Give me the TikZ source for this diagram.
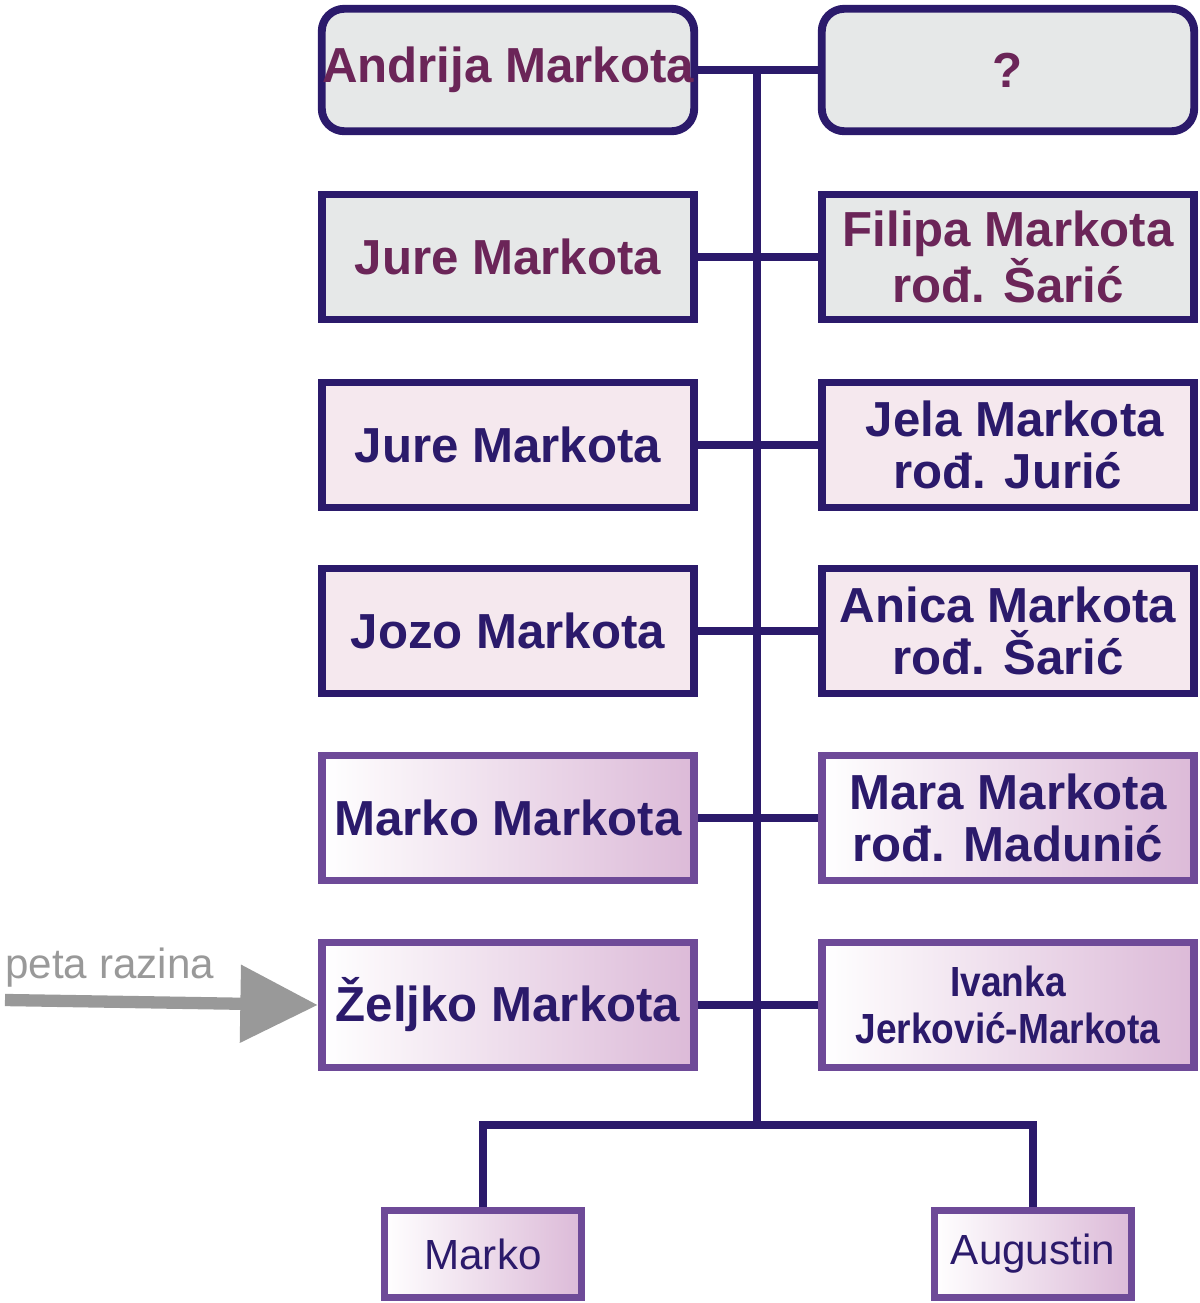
\documentclass[tikz,border=0pt]{standalone}
\usepackage{fontspec}
\setmainfont{Liberation Sans}
\usetikzlibrary{arrows.meta}
\definecolor{navy}{HTML}{2B1A6B}
\definecolor{maroon}{HTML}{6B2558}
\definecolor{grayf}{HTML}{E6E8E8}
\definecolor{pinkf}{HTML}{F5E8EE}
\definecolor{lilac}{HTML}{6E4A98}
\definecolor{grad}{HTML}{DCBAD8}
\begin{document}
\begin{tikzpicture}[x=0.02cm,y=-0.02cm,
 box/.style={draw=navy,line width=4.5pt,minimum width=7.45cm,minimum height=2.5cm,align=center,font=\fontsize{28}{30}\selectfont\bfseries,inner sep=0pt},
 g1/.style={box,fill=grayf,text=maroon},
 g2/.style={box,fill=pinkf,text=navy},
 g3/.style={box,draw=lilac,left color=white,right color=grad,text=navy},
 kid/.style={draw=lilac,line width=4pt,left color=white,right color=grad,minimum width=3.95cm,minimum height=1.75cm,text=navy,font=\fontsize{24}{26}\selectfont,inner sep=0pt},
 ln/.style={navy,line width=5pt}]
\useasboundingbox (0,0) rectangle (1200,1303);
\node[g1,rounded corners=0.45cm,minimum height=2.45cm] (a1) at (508,70) {Andrija Markota};
\node[g1,rounded corners=0.45cm,minimum height=2.45cm] (b1) at (1008,70) {?};
\node[g1] (a2) at (508,257) {Jure Markota};
\node[g1] (b2) at (1008,257) {Filipa Markota\\rođ. Šarić};
\node[g2] (a3) at (508,445) {Jure Markota};
\node[g2] (b3) at (1008,445) {\ Jela Markota\\rođ. Jurić};
\node[g2] (a4) at (508,631) {Jozo Markota};
\node[g2] (b4) at (1008,631) {Anica Markota\\rođ. Šarić};
\node[g3] (a5) at (508,818) {Marko Markota};
\node[g3] (b5) at (1008,818) {Mara Markota\\rođ. Madunić};
\node[g3] (a6) at (508,1005) {Željko Markota};
\node[g3,font=\fontsize{24}{27}\selectfont\bfseries] (b6) at (1008,1005) {\scalebox{0.88}[1]{Ivanka}\\\scalebox{0.88}[1]{Jerković-Markota}};
\node[kid] (k1) at (483,1254) {\raisebox{-5mm}{Marko}};
\node[kid] (k2) at (1033,1254) {\raisebox{-5mm}{Augustin}};
\coordinate (top) at (757,68);
\coordinate (bot) at (757,1125);
\draw[ln] (top) -- (bot);
\foreach \i in {1,...,6}{\draw[ln] (a\i.east) -- (b\i.west);}
\draw[ln] (k1.north) |- (bot) -| (k2.north);
\node[text=gray!80,font=\fontsize{24}{26}\selectfont,anchor=west,inner sep=0pt] (pr) at (5,968) {peta razina};
\coordinate (as) at (5,1000);
\draw[gray!80,line width=7pt,-{Triangle[length=1.55cm,width=1.5cm]}] (as) -- (a6.west);
\end{tikzpicture}
\end{document}
